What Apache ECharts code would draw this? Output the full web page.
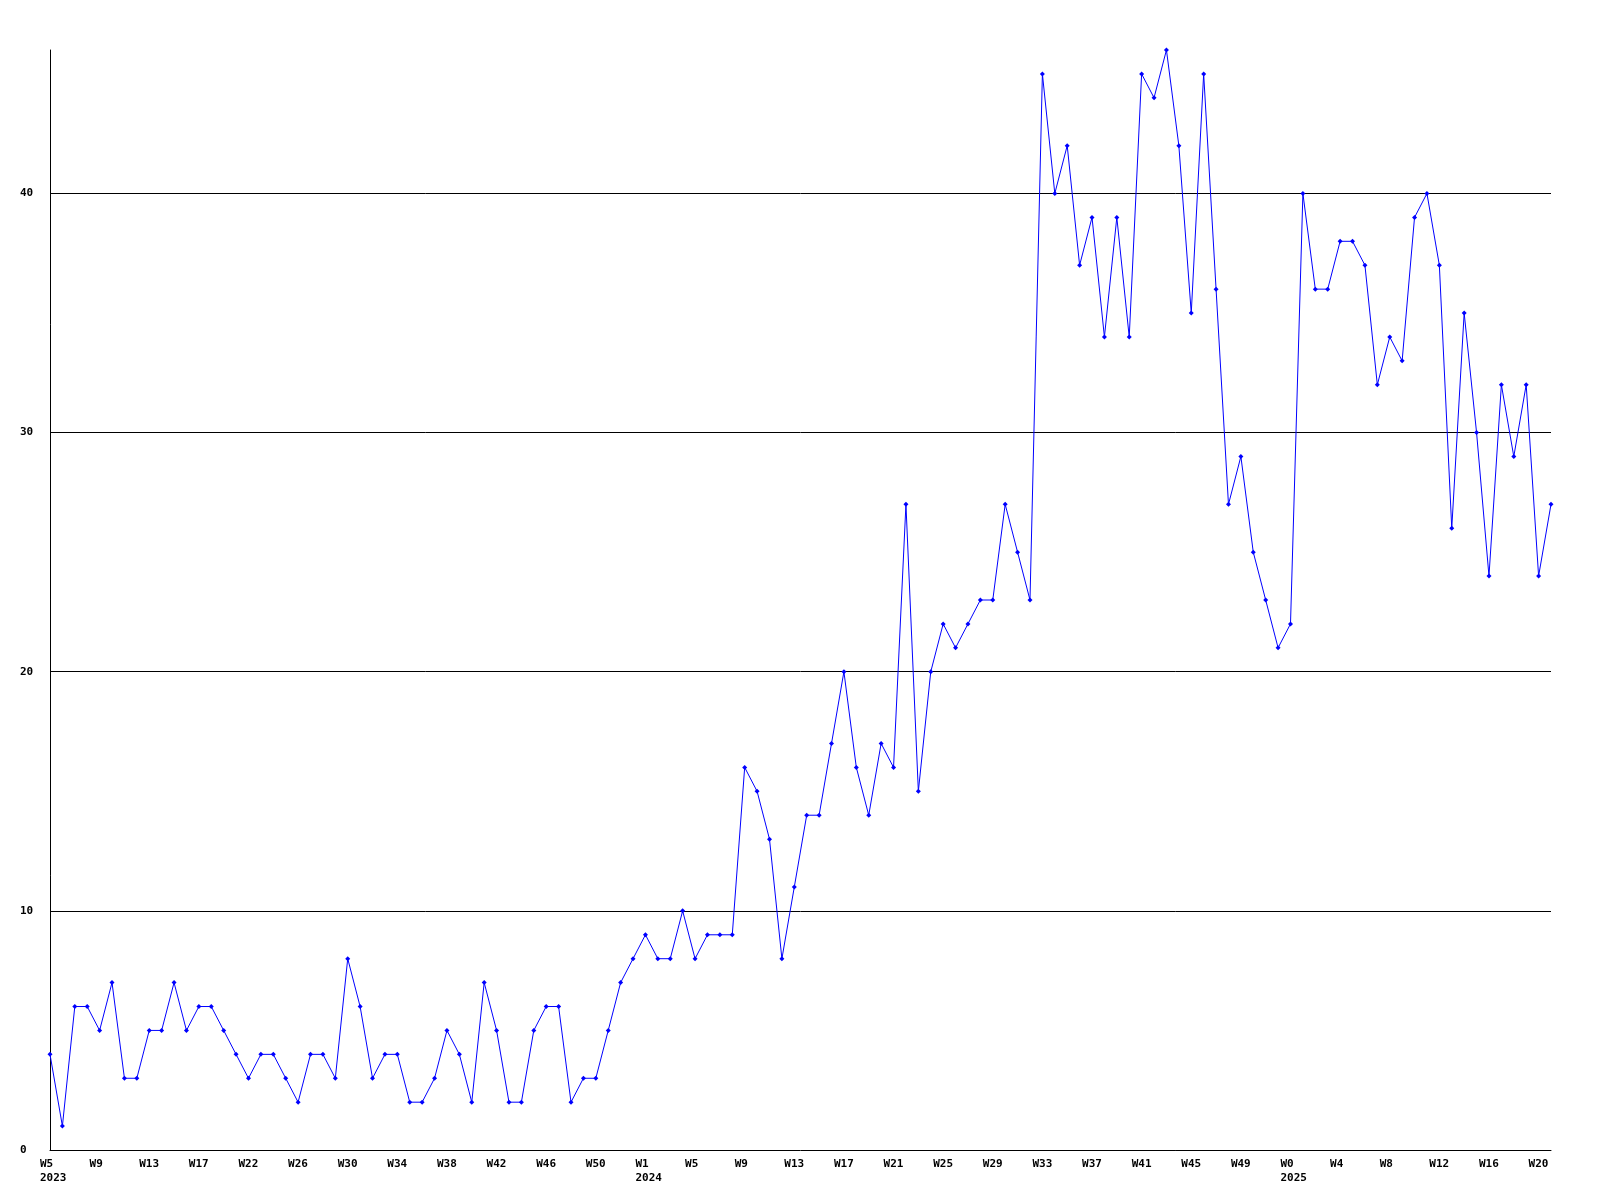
<!DOCTYPE html>
<html>
<head>
<meta charset="utf-8">
<script src="https://cdn.jsdelivr.net/npm/echarts@6/dist/echarts.min.js"></script>
<style>
html,body{margin:0;padding:0;background:#fff;}
#chart{width:1600px;height:1200px;}
</style>
</head>
<body>
<div id="chart"></div>
<script>
// Week numbers per year (x categories)
const weeks2023 = [5,6,7,8,9,10,11,12,13,14,15,16,17,19,20,21,22,23,24,25,26,27,28,29,30,31,32,33,34,35,36,37,38,39,40,41,42,43,44,45,46,47,48,49,50,51,52,53];
const weeks2024 = [1,2,3,4,5,6,7,8,9,10,11,12,13,14,15,16,17,18,19,20,21,22,23,24,25,26,27,28,29,30,31,32,33,34,35,36,37,38,39,40,41,42,43,44,45,46,47,48,49,50,51,52];
const weeks2025 = [0,1,2,3,4,5,6,7,8,9,10,11,12,13,14,15,16,17,18,19,20,21];

// Weekly values
const values = [
  4,1,6,6,5,7,3,3,5,5,7,5,6,6,5,4,
  3,4,4,3,2,4,4,3,8,6,3,4,4,2,2,3,5,4,2,7,
  5,2,2,5,6,6,2,3,3,5,7,8,9,8,8,10,8,9,9,9,
  16,15,13,8,11,14,14,17,20,16,14,17,16,27,15,20,22,21,22,23,23,27,25,23,
  45,40,42,37,39,34,39,34,45,44,46,42,35,45,36,
  27,29,25,23,21,22,40,36,36,38,38,37,32,34,33,39,40,37,26,35,30,24,32,29,32,24,27
];

// Y axis ticks
const yTicks = [0, 10, 20, 30, 40];
const yMax = 46;

const categories = [];
weeks2023.forEach(w => categories.push({year: 2023, week: w}));
weeks2024.forEach(w => categories.push({year: 2024, week: w}));
weeks2025.forEach(w => categories.push({year: 2025, week: w}));
const catNames = categories.map(c => c.year + '-W' + c.week);

const font = '"DejaVu Sans Mono", "Liberation Mono", monospace';

const chart = echarts.init(document.getElementById('chart'), null, {renderer: 'canvas'});
chart.setOption({
  animation: false,
  backgroundColor: '#ffffff',
  grid: {left: 50, right: 49, top: 50, bottom: 50, containLabel: false},
  xAxis: {
    type: 'category',
    data: catNames,
    boundaryGap: false,
    axisLine: {show: true, lineStyle: {color: '#000', width: 1}},
    axisTick: {show: false},
    splitLine: {show: false},
    axisLabel: {
      interval: 3,
      margin: 7,
      align: 'left',
      padding: [0, 0, 0, -10],
      color: '#000',
      fontFamily: font,
      fontWeight: 'bold',
      fontSize: 11,
      lineHeight: 14,
      verticalAlign: 'top',
      formatter: function (val, idx) {
        const c = categories[idx];
        const prev = idx >= 4 ? categories[idx - 4] : null;
        let s = 'W' + c.week;
        if (!prev || prev.year !== c.year) s += '\n' + c.year;
        return s;
      }
    }
  },
  yAxis: {
    type: 'value',
    min: yTicks[0],
    max: yMax,
    interval: yTicks[1] - yTicks[0],
    axisLine: {show: true, lineStyle: {color: '#000', width: 1}},
    axisTick: {show: false},
    splitLine: {show: true, showMaxLine: false, showMinLine: false, lineStyle: {color: '#000', width: 1}},
    axisLabel: {
      showMaxLabel: false,
      margin: 30,
      align: 'left',
      color: '#000',
      fontFamily: font,
      fontWeight: 'bold',
      fontSize: 11
    }
  },
  series: [{
    type: 'line',
    data: values,
    symbol: 'diamond',
    symbolSize: 5,
    showAllSymbol: true,
    lineStyle: {color: '#0000ff', width: 1},
    itemStyle: {color: '#0000ff'},
    emphasis: {disabled: true},
    clip: true
  }]
});
</script>
</body>
</html>
